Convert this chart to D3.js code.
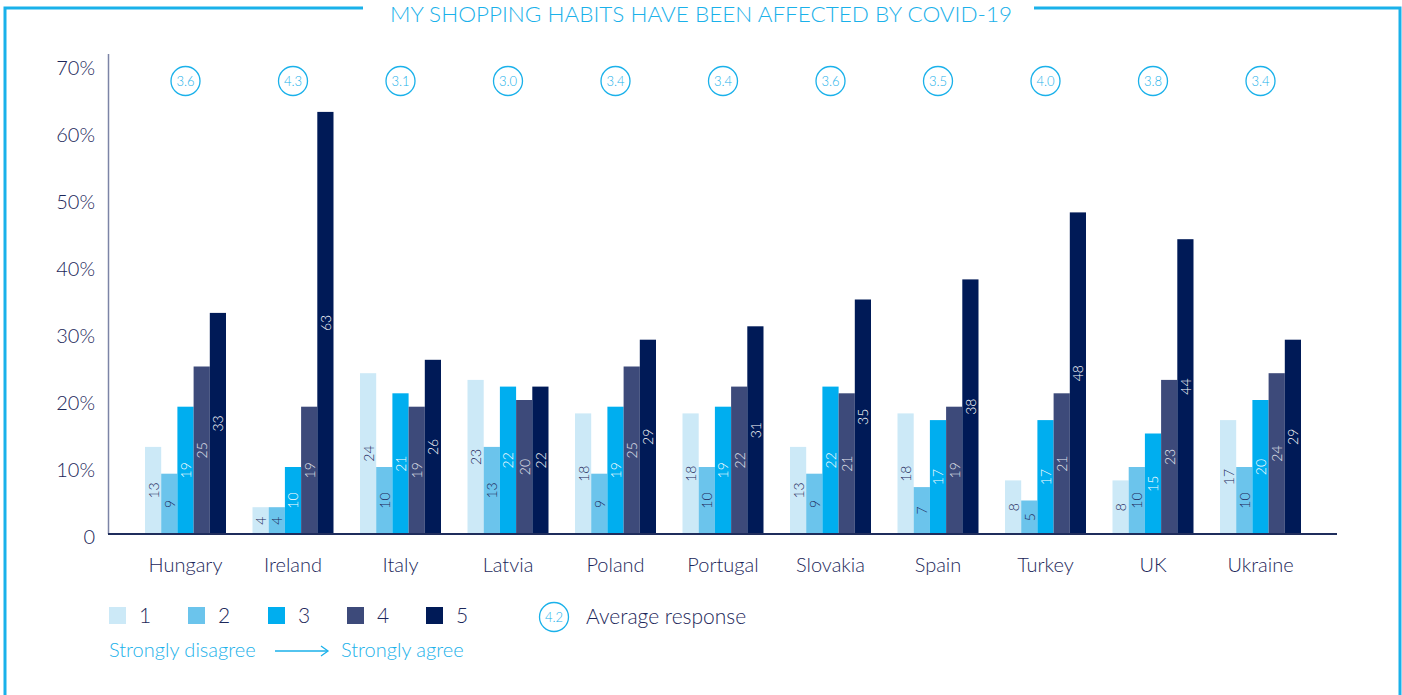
<!DOCTYPE html>
<html><head><meta charset="utf-8">
<script src="https://cdn.jsdelivr.net/npm/d3@7/dist/d3.min.js"></script>
<style>
html,body{margin:0;padding:0;background:#fff;}
svg{display:block;font-family:Lato,"Open Sans",sans-serif;font-weight:300;}
</style></head>
<body>
<svg id="chart" width="1402" height="695"></svg>
<script>
const countries = ["Hungary","Ireland","Italy","Latvia","Poland","Portugal","Slovakia","Spain","Turkey","UK","Ukraine"];
const seriesKeys = ["1","2","3","4","5"];
const s1 = [13,4,24,23,18,18,13,18,8,8,17];
const s2 = [9,4,10,13,9,10,9,7,5,10,10];
const s3 = [19,10,21,22,19,19,22,17,17,15,20];
const s4 = [25,19,19,20,25,22,21,19,21,23,24];
const s5 = [33,63,26,22,29,31,35,38,48,44,29];
const averages = ["3.6","4.3","3.1","3.0","3.4","3.4","3.6","3.5","4.0","3.8","3.4"];
const yTicks = [0,10,20,30,40,50,60,70];
const title = "MY SHOPPING HABITS HAVE BEEN AFFECTED BY COVID-19";

const colors = ["#cce9f7","#6bc4ec","#00aeef","#3d4a7a","#001a57"];
const labelColors = ["#1c275a","#1c275a","#ffffff","#e6e8f0","#ffffff"];
const navy = "#1c275a";
const sky = "#1ab1ea";

const series = [s1,s2,s3,s4,s5];
const svg = d3.select("#chart");

// frame
svg.append("path").attr("d","M5,695 V8 H363").attr("fill","none").attr("stroke",sky).attr("stroke-width",3);
svg.append("path").attr("d","M1034,8 H1400 V695").attr("fill","none").attr("stroke",sky).attr("stroke-width",3);
svg.append("text").attr("x",701).attr("y",22).attr("text-anchor","middle")
  .attr("fill",sky).attr("font-size",21).attr("textLength",622).attr("lengthAdjust","spacingAndGlyphs").text(title);

const y = d3.scaleLinear().domain([0,70]).range([534,65]);
const x0 = d3.scaleBand().domain(countries).range([131.75,1314.25]).paddingInner(0.2465).paddingOuter(0.12325);
const x1 = d3.scaleBand().domain(seriesKeys).range([0,x0.bandwidth()]).padding(0);

// y axis line
svg.append("line").attr("x1",108.5).attr("x2",108.5).attr("y1",54).attr("y2",534).attr("stroke","#7c84a6").attr("stroke-width",1.5);
// y labels
const yAxis = d3.axisLeft(y).tickValues(yTicks).tickSize(0).tickPadding(0).tickFormat(d=> d===0 ? "0" : d+"%");
const ga = svg.append("g").attr("transform","translate(95,3)").call(yAxis);
ga.select(".domain").remove();
ga.selectAll("text").attr("fill",navy).attr("font-size",20).attr("font-family","Lato,'Open Sans',sans-serif");

// bars
const groups = svg.append("g").selectAll("g").data(countries).join("g")
  .attr("transform",d=>`translate(${x0(d)},0)`);
groups.each(function(c,i){
  const g = d3.select(this);
  seriesKeys.forEach((k,j)=>{
    const v = series[j][i];
    g.append("rect").attr("x",x1(k)).attr("y",y(v)).attr("width",x1.bandwidth()).attr("height",y(0)-y(v)).attr("fill",colors[j]);
    const cx = x1(k)+x1.bandwidth()/2, cy = (y(v)+y(0))/2;
    g.append("text").attr("transform",`translate(${cx+0.5},${cy}) rotate(-90)`)
      .attr("text-anchor","middle").attr("dy","0.35em").attr("font-size",14).attr("fill",labelColors[j]).text(v);
  });
});

// x baseline
svg.append("line").attr("x1",108).attr("x2",1337).attr("y1",534).attr("y2",534).attr("stroke","#1f2d5c").attr("stroke-width",2);

// x labels
const xAxis = d3.axisBottom(x0).tickSize(0).tickPadding(0);
const gx = svg.append("g").attr("transform","translate(0,572)").call(xAxis);
gx.select(".domain").remove();
gx.selectAll("text").attr("fill",navy).attr("font-size",20).attr("dy",0).attr("font-family","Lato,'Open Sans',sans-serif");

// average circles
const circ = svg.append("g").selectAll("g").data(countries).join("g")
  .attr("transform",d=>`translate(${x0(d)+x0.bandwidth()/2},81)`);
circ.append("circle").attr("r",14.5).attr("fill","none").attr("stroke",sky).attr("stroke-width",1.3);
circ.append("text").attr("text-anchor","middle").attr("dy","0.35em").attr("font-size",13).attr("fill",sky)
  .text((d,i)=>averages[i]);

// legend
const legX = [109,188,268,347,426];
const leg = svg.append("g");
seriesKeys.forEach((k,j)=>{
  leg.append("rect").attr("x",legX[j]).attr("y",607).attr("width",17).attr("height",17).attr("fill",colors[j]);
  leg.append("text").attr("x",legX[j]+30).attr("y",623).attr("font-size",21).attr("fill",navy).text(k);
});
leg.append("circle").attr("cx",554).attr("cy",617).attr("r",14.5).attr("fill","none").attr("stroke",sky).attr("stroke-width",1.3);
leg.append("text").attr("x",554).attr("y",617).attr("dy","0.35em").attr("text-anchor","middle").attr("font-size",13).attr("fill",sky).text("4.2");
leg.append("text").attr("x",586).attr("y",624).attr("font-size",21).attr("fill",navy).text("Average response");
leg.append("text").attr("x",109).attr("y",657).attr("font-size",20).attr("fill",sky).text("Strongly disagree");
leg.append("text").attr("x",341).attr("y",657).attr("font-size",20).attr("fill",sky).text("Strongly agree");
leg.append("line").attr("x1",275).attr("x2",327).attr("y1",651).attr("y2",651).attr("stroke",sky).attr("stroke-width",1.3);
leg.append("path").attr("d","M321,646 L328,651 L321,656").attr("fill","none").attr("stroke",sky).attr("stroke-width",1.3);
</script>
</body></html>
